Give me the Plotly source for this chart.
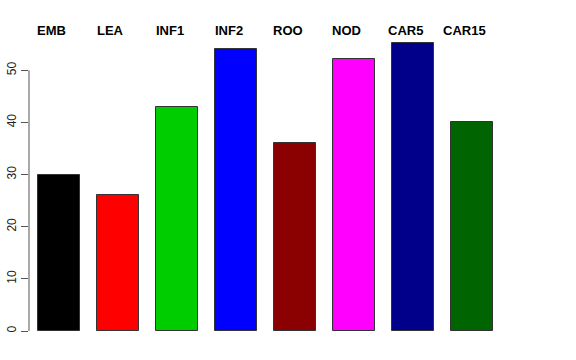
import plotly.graph_objects as go

categories = ["EMB", "LEA", "INF1", "INF2", "ROO", "NOD", "CAR5", "CAR15"]
values = [30, 26, 43, 54, 36, 52.2, 55.3, 40]
colors = ["#000000", "#FF0000", "#00CD00", "#0000FF", "#8B0000", "#FF00FF", "#00008B", "#006400"]
y_ticks = [0, 10, 20, 30, 40, 50]

xpos = list(range(len(categories)))

fig = go.Figure()
fig.add_trace(go.Bar(
    x=xpos, y=values, width=0.71,
    marker=dict(color=colors, line=dict(color="#333333", width=1)),
    showlegend=False, hoverinfo="skip",
))

for i, c in enumerate(categories):
    fig.add_annotation(x=i - 0.13, y=1, xref="x", yref="paper", text="<b>%s</b>" % c,
                       showarrow=False, yanchor="middle", yshift=0,
                       font=dict(family="Liberation Sans, Arial, sans-serif", size=13, color="black"))

fig.add_shape(type="line", xref="paper", yref="y", x0=0, x1=0, y0=y_ticks[0], y1=y_ticks[-1],
              line=dict(color="#555555", width=1))

fig.update_layout(
    width=576, height=360,
    margin=dict(l=29, r=40, t=30, b=29, autoexpand=False),
    paper_bgcolor="white", plot_bgcolor="white",
    bargap=0,
    xaxis=dict(range=[-0.5136, 8.08], showticklabels=False, showgrid=False, zeroline=False,
               showline=False, ticks="", automargin=False),
    yaxis=dict(range=[0, 57.73], tickvals=y_ticks, ticktext=[str(v) for v in y_ticks],
               tickangle=-90, ticks="outside", ticklen=7, tickcolor="#555555",
               showgrid=False, zeroline=False, showline=False, automargin=False,
               tickfont=dict(family="Liberation Sans, Arial, sans-serif", size=12, color="#222222")),
)

fig.write_html("out.html", config={"displayModeBar": False},
               post_script="document.body.style.margin='0';document.body.style.padding='0';")
